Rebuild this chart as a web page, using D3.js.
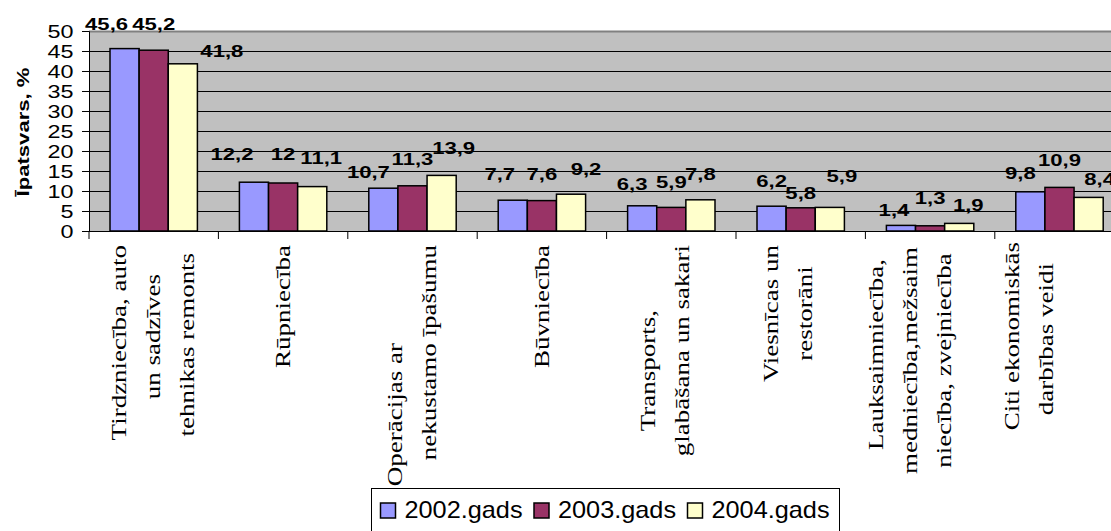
<!DOCTYPE html>
<html>
<head>
<meta charset="utf-8">
<script src="https://cdn.jsdelivr.net/npm/d3@7"></script>
<style>
  html, body { margin: 0; padding: 0; background: #fff; }
  svg { display: block; }
</style>
</head>
<body>
<svg id="chart" width="1111" height="531"></svg>
<script>
// ---- data ----
const categories = [
  "Tirdzniecība, auto un sadzīves tehnikas remonts",
  "Rūpniecība",
  "Operācijas ar nekustamo īpašumu",
  "Būvniecība",
  "Transports, glabāšana un sakari",
  "Viesnīcas un restorāni",
  "Lauksaimniecība, medniecība,mežsaimniecība, zvejniecība",
  "Citi ekonomiskās darbības veidi"
];
const categoryLines = [
  ["Tirdzniecība, auto", "un sadzīves", "tehnikas remonts"],
  ["Rūpniecība"],
  ["Operācijas ar", "nekustamo īpašumu"],
  ["Būvniecība"],
  ["Transports,", "glabāšana un sakari"],
  ["Viesnīcas un", "restorāni"],
  ["Lauksaimniecība,", "medniecība,mežsaim", "niecība, zvejniecība"],
  ["Citi ekonomiskās", "darbības veidi"]
];
const seriesNames = ["2002.gads", "2003.gads", "2004.gads"];
const values2002 = [45.6, 12.2, 10.7, 7.7, 6.3, 6.2, 1.4, 9.8];
const values2003 = [45.2, 12.0, 11.3, 7.6, 5.9, 5.8, 1.3, 10.9];
const values2004 = [41.8, 11.1, 13.9, 9.2, 7.8, 5.9, 1.9, 8.4];
const yTicks = [0, 5, 10, 15, 20, 25, 30, 35, 40, 45, 50];
const yTitle = "Īpatsvars, %";

// ---- style / layout ----
const colors = ["#9999FF", "#993366", "#FFFFCC"];
const plot = { left: 89, top: 31, bottom: 231, catWidth: 129.4 };
const SANS = "'Liberation Sans', Arial, sans-serif";
const SERIF = "'Liberation Serif', 'Times New Roman', serif";
const WIDE = 1.3;        // glyphs in the reference are stretched along the writing direction
// label nudges [dx, dy] in px relative to default spot above bar
const labelNudge = [
  [[-18, 2], [-22, -1], [-15, 11], [-13, 1], [-10, 5], [0, 2], [-7, 12], [-10, 8]],
  [[0, 1], [0, -2], [0, 0], [0, 0], [0, 2], [0, 12], [0, -1], [0, 0]],
  [[39, 14], [9, -2], [12, 0], [15, 2], [0, 1], [12, -4], [9, 9], [11, 9]]
];
const catLabelDx = [0, 0, 0, 0, -6, -12, -20, -30];
const catLineShift = [[0, -6, 2], [0], [62, 0], [0], [20, 0], [0, 0], [-4, 2, 2], [-3, 0]];

const series = [values2002, values2003, values2004];
const svg = d3.select("#chart");
const right = plot.left + plot.catWidth * categories.length;

const x0 = d3.scaleBand().domain(d3.range(categories.length)).range([plot.left, right]).padding(0);
const gap = 21;
const x1 = d3.scaleBand().domain(d3.range(series.length)).range([gap, x0.bandwidth() - gap]).padding(0);
const y = d3.scaleLinear().domain([0, 50]).range([plot.bottom, plot.top]);

// plot area
svg.append("rect").attr("x", plot.left).attr("y", plot.top)
  .attr("width", right - plot.left).attr("height", plot.bottom - plot.top)
  .attr("fill", "#C0C0C0");

// gridlines
svg.append("g").selectAll("line").data(yTicks.filter(t => t > 0)).join("line")
  .attr("x1", plot.left).attr("x2", right)
  .attr("y1", d => Math.round(y(d)) + 0.5).attr("y2", d => Math.round(y(d)) + 0.5)
  .attr("stroke", d => d === 50 ? "#808080" : "#000")
  .attr("stroke-width", d => d === 50 ? 2 : 1);

// bars
const groups = svg.append("g").selectAll("g").data(categories).join("g")
  .attr("transform", (d, i) => `translate(${x0(i)},0)`);
groups.selectAll("rect").data((d, i) => series.map((s, j) => ({ v: s[i], j, i })))
  .join("rect")
  .attr("x", d => x1(d.j))
  .attr("width", x1.bandwidth())
  .attr("y", d => y(d.v))
  .attr("height", d => y(0) - y(d.v))
  .attr("fill", d => colors[d.j])
  .attr("stroke", "#000").attr("stroke-width", 1.5);

// y axis
const yAxis = d3.axisLeft(y).tickValues(yTicks).tickSize(7).tickFormat(d3.format("d"));
const ya = svg.append("g").attr("transform", `translate(${plot.left},0)`).call(yAxis);
ya.select(".domain").attr("stroke", "#000").attr("stroke-width", 1);
ya.selectAll(".tick line").attr("stroke", "#000");
ya.selectAll(".tick text")
  .attr("x", null).attr("dy", null)
  .attr("transform", `translate(-15.5,0) scale(${WIDE},1)`)
  .attr("text-anchor", "end").attr("dominant-baseline", "central")
  .attr("font-family", SANS).attr("font-size", 18).attr("fill", "#000");

// x axis (category ticks)
const xa = svg.append("g");
xa.append("line").attr("x1", plot.left).attr("x2", right)
  .attr("y1", plot.bottom + 0.5).attr("y2", plot.bottom + 0.5).attr("stroke", "#000");
xa.selectAll("line.tk").data(d3.range(categories.length + 1)).join("line").attr("class", "tk")
  .attr("x1", d => plot.left + d * x0.bandwidth()).attr("x2", d => plot.left + d * x0.bandwidth())
  .attr("y1", plot.bottom).attr("y2", plot.bottom + 8).attr("stroke", "#000");

// category labels (rotated)
const catTop = 245;
const lineGap = 34;
const catScale = 1.35;
categoryLines.forEach((lines, i) => {
  const cx = x0(i) + x0.bandwidth() / 2 + catLabelDx[i];
  const g = svg.append("g").attr("transform", `translate(${cx},${catTop}) rotate(-90) scale(${catScale},1)`);
  const texts = g.selectAll("text").data(lines).join("text")
    .attr("font-family", SERIF)
    .attr("font-size", 20)
    .attr("text-anchor", "middle").attr("dominant-baseline", "central")
    .attr("fill", "#000")
    .attr("y", (d, k) => (k - (lines.length - 1) / 2) * lineGap)
    .text(d => d);
  let maxLen = 0;
  texts.each(function () { maxLen = Math.max(maxLen, this.getComputedTextLength()); });
  texts.attr("x", (d, k) => -maxLen / 2 - (catLineShift[i][k] || 0) / catScale);
});

// data labels
const fmt = v => String(v).replace(".", ",");
series.forEach((s, j) => {
  svg.append("g").selectAll("text").data(s).join("text")
    .attr("transform", (d, i) => {
      const cx = x0(i) + x1(j) + x1.bandwidth() / 2 + labelNudge[j][i][0];
      const cy = y(d) - 27 + labelNudge[j][i][1];
      return `translate(${cx},${cy}) scale(${WIDE},1)`;
    })
    .attr("text-anchor", "middle").attr("dominant-baseline", "central")
    .attr("font-family", SANS)
    .attr("font-weight", "bold").attr("font-size", 17)
    .attr("fill", "#000")
    .text(d => fmt(d));
});

// y title
svg.append("text")
  .attr("transform", `translate(23,${(plot.top + plot.bottom) / 2 + 1}) rotate(-90) scale(${WIDE},1)`)
  .attr("text-anchor", "middle").attr("dominant-baseline", "central")
  .attr("font-family", SANS)
  .attr("font-weight", "bold").attr("font-size", 17)
  .attr("fill", "#000").text(yTitle);

// legend
const legend = svg.append("g").attr("transform", "translate(371,488)");
legend.append("rect").attr("x", 0.5).attr("y", 0.5).attr("width", 468).attr("height", 60)
  .attr("fill", "#fff").attr("stroke", "#000").attr("stroke-width", 1);
const step = 153.5;
const items = legend.selectAll("g.it").data(seriesNames).join("g").attr("class", "it")
  .attr("transform", (d, i) => `translate(${9.5 + i * step},0)`);
items.append("rect").attr("x", 0).attr("y", 15).attr("width", 15).attr("height", 15)
  .attr("fill", (d, i) => colors[i]).attr("stroke", "#000").attr("stroke-width", 1.5);
items.append("text").attr("transform", "translate(24,30) scale(1.1,1)")
  .attr("font-family", SANS).attr("font-size", 23)
  .attr("fill", "#000")
  .text(d => d);
</script>
</body>
</html>
